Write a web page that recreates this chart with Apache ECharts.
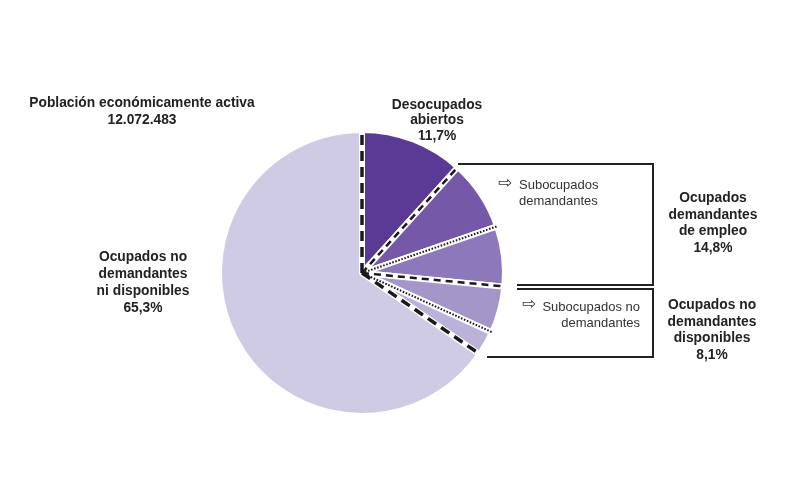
<!DOCTYPE html>
<html>
<head>
<meta charset="utf-8">
<script src="https://cdn.jsdelivr.net/npm/echarts@6/dist/echarts.min.js"></script>
<style>
  html, body { margin: 0; padding: 0; background: #fff; }
  #container { width: 790px; height: 491px; }
</style>
</head>
<body>
<div id="container"></div>
<script>
// slices, clockwise from 12 o'clock (percent of the active population)
var sliceNames = [
    'Desocupados abiertos',
    'Subocupados demandantes',
    'Otros ocupados demandantes',
    'Subocupados no demandantes',
    'Otros ocupados no demandantes disponibles',
    'Ocupados no demandantes ni disponibles'
];
var sliceValues = [11.7, 8.0, 6.8, 5.3, 2.8, 65.3];
var sliceColors = ['#5b3a96', '#7558a8', '#8c78bb', '#a596c9', '#bcb2d9', '#d0cbe4'];

// separator style at each slice boundary, clockwise from 12 o'clock
var separatorStyles = ['heavy', 'dashed', 'dotted', 'dashed', 'dotted', 'heavy'];

var groupTotals = {
    desocupados: 11.7,
    demandantes: 14.8,
    disponibles: 8.1,
    noDisponibles: 65.3
};
var totalPEA = '12.072.483';

function fmt(v) {
    return v.toFixed(1).replace('.', ',') + '%';
}

var dom = document.getElementById('container');
var myChart = echarts.init(dom, null, { renderer: 'canvas' });

var CX = 362, CY = 273, R = 143;

// cumulative boundaries for separator lines
var bounds = [0];
var acc = 0;
for (var i = 0; i < 5; i++) {
    acc += sliceValues[i];
    bounds.push(Math.round(acc * 10) / 10);
}

var lineStyles = {
    heavy: { color: '#1a1a1a', width: 3.5, type: [10, 6] },
    dashed: { color: '#1a1a1a', width: 2.5, type: [7, 5] },
    dotted: { color: '#1a1a1a', width: 2, type: [1.6, 1.6] }
};

var sepSeries = bounds.map(function (b, i) {
    var outer = (i === 0 || i === bounds.length - 1) ? 1.0 : 1.03;
    return {
        type: 'line',
        coordinateSystem: 'polar',
        symbol: 'none',
        silent: true,
        z: 5,
        lineStyle: lineStyles[separatorStyles[i]],
        data: [[0, b], [outer, b]]
    };
});

var boldFont = 'bold 13.8px "Liberation Sans", Arial, sans-serif';
var regFont = '13px "Liberation Sans", Arial, sans-serif';
var arrowFont = '17px "DejaVu Sans", sans-serif';

var option = {
    animation: false,
    backgroundColor: '#fff',
    polar: { center: [CX, CY], radius: R },
    angleAxis: { type: 'value', min: 0, max: 100, startAngle: 90, clockwise: true, show: false },
    radiusAxis: { type: 'value', min: 0, max: 1, show: false },
    series: [
        {
            type: 'pie',
            center: [CX, CY],
            radius: [0, R],
            startAngle: 90,
            clockwise: true,
            silent: true,
            label: { show: false },
            labelLine: { show: false },
            itemStyle: { borderColor: '#fff', borderWidth: 6 },
            data: sliceNames.map(function (n, i) {
                return { name: n, value: sliceValues[i], itemStyle: { color: sliceColors[i] } };
            })
        }
    ].concat(sepSeries),
    graphic: [
        {
            type: 'polyline', z: 10,
            shape: { points: [[458, 164], [653, 164], [653, 285], [517, 285]] },
            style: { stroke: '#222', lineWidth: 2, fill: null }
        },
        {
            type: 'polyline', z: 10,
            shape: { points: [[517, 289], [653, 289], [653, 357], [487, 357]] },
            style: { stroke: '#222', lineWidth: 2, fill: null }
        },
        {
            type: 'text', x: 142, y: 95,
            style: { text: 'Población económicamente activa\n' + totalPEA, font: boldFont, fill: '#222', align: 'center', lineHeight: 17 }
        },
        {
            type: 'text', x: 437, y: 97,
            style: { text: 'Desocupados\nabiertos\n' + fmt(groupTotals.desocupados), font: boldFont, fill: '#222', align: 'center', lineHeight: 15.5 }
        },
        {
            type: 'text', x: 143, y: 249,
            style: { text: 'Ocupados no\ndemandantes\nni disponibles\n' + fmt(groupTotals.noDisponibles), font: boldFont, fill: '#222', align: 'center', lineHeight: 17 }
        },
        {
            type: 'text', x: 713, y: 190,
            style: { text: 'Ocupados\ndemandantes\nde empleo\n' + fmt(groupTotals.demandantes), font: boldFont, fill: '#222', align: 'center', lineHeight: 16.5 }
        },
        {
            type: 'text', x: 712, y: 297,
            style: { text: 'Ocupados no\ndemandantes\ndisponibles\n' + fmt(groupTotals.disponibles), font: boldFont, fill: '#222', align: 'center', lineHeight: 16.5 }
        },
        {
            type: 'text', x: 498, y: 175,
            style: { text: '\u21E8', font: arrowFont, fill: '#333' }
        },
        {
            type: 'text', x: 519, y: 178,
            style: { text: 'Subocupados\ndemandantes', font: regFont, fill: '#333', align: 'left', lineHeight: 15.5 }
        },
        {
            type: 'text', x: 522, y: 296,
            style: { text: '\u21E8', font: arrowFont, fill: '#333' }
        },
        {
            type: 'text', x: 640, y: 299,
            style: { text: 'Subocupados no\ndemandantes', font: regFont, fill: '#333', align: 'right', lineHeight: 16 }
        }
    ]
};

myChart.setOption(option);
window.addEventListener('resize', myChart.resize);
</script>
</body>
</html>
